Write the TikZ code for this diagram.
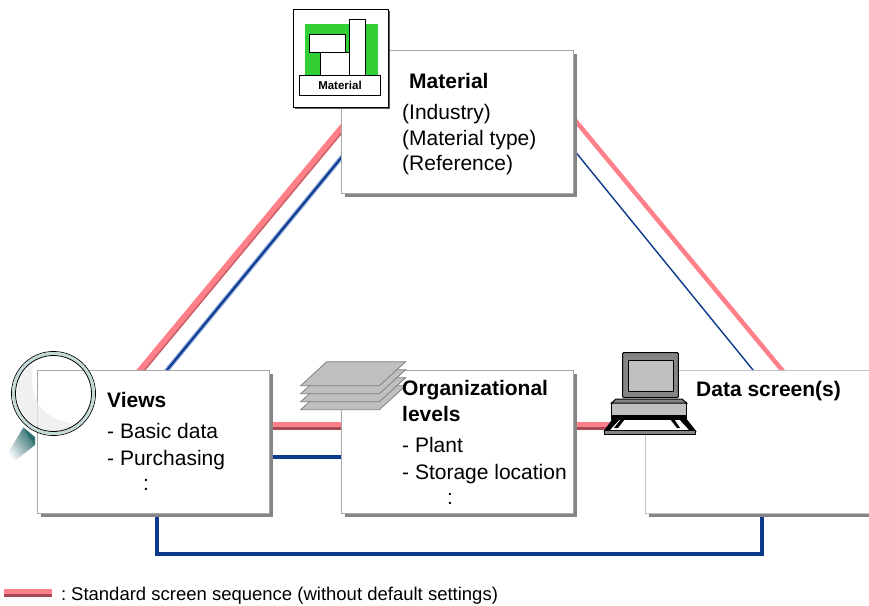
\documentclass[tikz,border=0pt]{standalone}
\usepackage{fontspec}
\setmainfont{Liberation Sans}
\usetikzlibrary{shadows,calc}
\pgfdeclarelayer{bg}
\pgfsetlayers{bg,main}
\definecolor{pinkc}{HTML}{FF8088}
\definecolor{darkred}{HTML}{A84A55}
\definecolor{navy}{HTML}{0B3A8C}
\definecolor{lightnavy}{HTML}{8CA8DC}
\definecolor{boxedge}{HTML}{A8A8A8}
\definecolor{shadowc}{HTML}{858585}
\definecolor{sheet}{HTML}{C0C0C0}
\definecolor{ring}{HTML}{C4DAD8}
\definecolor{handle}{HTML}{2F6F70}
\definecolor{matgreen}{HTML}{33D033}
\tikzset{
  x=1pt,y=-1pt,
  infobox/.style={draw=boxedge,line width=1pt,fill=white,anchor=north west,inner sep=0pt,
    minimum width=232pt,minimum height=143pt,
    drop shadow={shadow xshift=3pt,shadow yshift=-3pt,fill=shadowc,opacity=1}},
  boxtitle/.style={anchor=base west,inner sep=0pt,font=\fontsize{21}{24}\selectfont\bfseries},
  boxline/.style={anchor=base west,inner sep=0pt,font=\fontsize{21}{24}\selectfont},
  legendtext/.style={anchor=base west,inner sep=0pt,font=\fontsize{18.5}{22}\selectfont},
  pipered/.style={draw=pinkc,line width=4.5pt,preaction={draw=darkred,line width=4pt,transform canvas={yshift=-3.5pt}}},
  pipeblue/.style={draw=navy,line width=3.5pt},
  diagred/.style={draw=pinkc,line width=5.5pt,line cap=butt,shorten >=-8pt,shorten <=-8pt,
     preaction={draw=darkred!60!pinkc,line width=5.5pt,transform canvas={xshift=1.2pt,yshift=-1.2pt}}},
  diagblue/.style={draw=navy,line width=2pt,line cap=butt,shorten >=-8pt,shorten <=-8pt,
     preaction={draw=lightnavy,line width=4.5pt}},
  thinblue/.style={draw=navy,line width=1.4pt,shorten >=-8pt,shorten <=-8pt},
  thinred/.style={draw=pinkc,line width=4.5pt,shorten >=-8pt,shorten <=-8pt},
  outl/.style={draw=black,line width=1pt},
}
\begin{document}
\begin{tikzpicture}
\useasboundingbox (0,0) rectangle (869,605);
\clip (0,0) rectangle (869,605);

% boxes
\node[infobox] (mat) at (341,50) {};
\node[infobox] (views) at (37,370) {};
\node[infobox] (org) at (341,370) {};
\node[infobox,minimum width=240pt,draw=boxedge!70] (data) at (645,370) {};

% connectors
\begin{pgfonlayer}{bg}
\fill[white] (0,0) rectangle (869,605);
\draw[diagred] ($(mat.north west)+(0,78)$) -- ($(views.north west)+(103,0)$);
\draw[diagblue] ($(mat.north west)+(0,108)$) -- ($(views.north west)+(130,0)$);
\draw[thinred] ($(mat.north east)+(5,75)$) -- ($(data.north west)+(137,0)$);
\draw[thinblue] ($(mat.north east)+(4,105)$) -- ($(data.north west)+(108,0)$);
\draw[pipered] ($(views.north east)+(0,54.5)$) -- ($(org.north west)+(0,54.5)$);
\draw[pipeblue] ($(views.north east)+(0,87)$) -- ($(org.north west)+(0,87)$);
\draw[pipered] ($(org.north east)+(0,54.5)$) -- ($(data.north west)+(0,54.5)$);
\draw[pipeblue,miter limit=10] ($(views.south west)+(120,0)$) -- ($(views.south west)+(120,40)$) -- ($(data.south west)+(117,40)$) -- ($(data.south west)+(117,0)$);
\end{pgfonlayer}

% material icon
\fill[shadowc!70!black] (295,11) rectangle (390,109);
\draw[outl,fill=white] (293,9) rectangle (388,107);
\fill[matgreen] (305,24) rectangle (378,75);
\draw[outl,fill=white] (320,52) rectangle (349,75);
\draw[outl,fill=white] (309,34) rectangle (345,52);
\draw[outl,fill=white] (349,19) rectangle (365,75);
\fill[shadowc] (300,76) rectangle (381,96);
\node[draw=black,line width=1pt,fill=white,anchor=north west,inner sep=0pt,minimum width=81pt,minimum height=20pt,
  font=\fontsize{11.5}{13}\selectfont\bfseries] (iconlabel) at (299,75) {Material};

% magnifier
\shade[left color=handle,right color=white,shading angle=-55] (23,428) -- (35,445) -- (16,460) -- (5,458) -- cycle;
\fill[handle] (23,427) -- (35,437) -- (35,445) -- (28,436) -- cycle;
\fill[gray!15,even odd rule,opacity=.75] (33,366) .. controls (28,395) and (40,425) .. (85,424) .. controls (60,440) and (20,430) .. (17,395) .. controls (16,380) and (24,368) .. (33,366) -- cycle;
\draw[black,line width=.8pt] (53.5,393.5) circle (42);
\draw[ring,line width=3pt] (53.5,393.5) circle (40);
\draw[black,line width=.8pt] (53.5,393.5) circle (38);

% sheets
\foreach \dy in {24,16,8,0}{
  \draw[draw=gray,line width=.8pt,fill=sheet,yshift=-\dy pt] (300.7,385.7) -- (326.7,361.7) -- (405.7,361.7) -- (379.3,385.7) -- cycle;
}

% computer
\draw[outl,fill=white] (613,419) -- (686,419) -- (695.5,431) -- (604.5,431) -- cycle;
\fill[black] (613,419) -- (620,419) -- (609,431) -- (604.5,431) -- cycle;
\fill[black] (686,419) -- (679,419) -- (690,431) -- (695.5,431) -- cycle;
\fill[black] (621,419) -- (625,419) -- (618,428) -- (614,428) -- cycle;
\fill[black] (670,419) -- (674,419) -- (680,428) -- (677,428) -- cycle;
\draw[outl,fill=shadowc] (604.5,430) rectangle (695.5,434);
\draw[outl,fill=sheet] (611.7,402) rectangle (686.5,419);
\fill[black] (611.7,415) rectangle (686.5,419);
\draw[outl,fill=shadowc] (616,399) -- (682,399) -- (686.5,403) -- (611.7,403) -- cycle;
\draw[outl,fill=shadowc,rounded corners=1pt] (622.7,352.7) rectangle (678.3,397.7);
\draw[black,line width=.8pt,fill=sheet] (628.3,360) rectangle (673.3,391.7);

% texts
\node[boxtitle] (t1) at (409,88) {Material};
\node[boxline] (t2) at (402,119) {(Industry)};
\node[boxline] (t3) at (402,145.5) {(Material type)};
\node[boxline] (t4) at (402,170.5) {(Reference)};
\node[boxtitle] (t5) at (107,407.5) {Views};
\node[boxline] (t6) at (107,438.5) {- Basic data};
\node[boxline] (t7) at (107,465) {- Purchasing};
\node[boxline] (t8) at (143,490.5) {:};
\node[boxtitle] (t9) at (402,395) {Organizational};
\node[boxtitle] (t10) at (402,421) {levels};
\node[boxline] (t11) at (402,452) {- Plant};
\node[boxline] (t12) at (402,479) {- Storage location};
\node[boxline] (t13) at (447,504) {:};
\node[boxtitle] (t14) at (696,396) {Data screen(s)};

% legend
\coordinate (la) at (4,591.5);
\coordinate (lb) at (52,591.5);
\draw[pipered] (la) -- (lb);
\node[legendtext] (lg) at (61,600) {:\hspace{-2pt} Standard screen sequence (without default settings)};
\end{tikzpicture}
\end{document}
